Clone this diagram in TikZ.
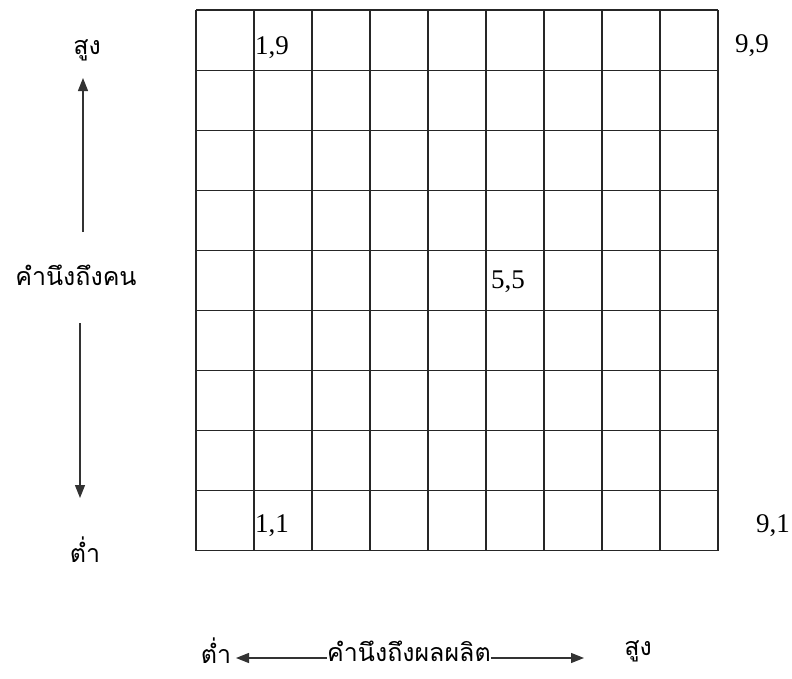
\documentclass[tikz,border=0pt]{standalone}
\usepackage{fontspec}
\setmainfont{Liberation Serif}
\newfontfamily\thaifont[Script=Thai]{Loma}
\usetikzlibrary{arrows.meta}

\begin{document}
\begin{tikzpicture}[x=1pt, y=-1pt, >={Triangle[length=13pt,width=10pt]},
    gridline/.style={black!85, line width=1.1pt},
    axisarrow/.style={->, line width=1.2pt, black!80},
    thaitext/.style={font=\thaifont\fontsize{25}{28}\selectfont, inner sep=0pt},
    cellnum/.style={font=\fontsize{27}{30}\selectfont, inner sep=0pt}]

    \useasboundingbox (0,0) rectangle (792,678);

    % --- Grid 9 x 9 ---
    \foreach \i in {0,...,9} {
        \draw[gridline] ({196+58*\i},10) -- ({196+58*\i},551);
        \draw[gridline] (196,{10+60.1*\i}) -- (718,{10+60.1*\i});
    }

    % --- Cell labels ---
    \node[cellnum, anchor=west] (c19) at (255,48) {1,9};
    \node[cellnum] (c99) at (752,46) {9,9};
    \node[cellnum] (c55) at (508,282) {5,5};
    \node[cellnum, anchor=west] (c11) at (255,526) {1,1};
    \node[cellnum, anchor=west] (c91) at (756,526) {9,1};

    % --- Vertical axis: concern for people ---
    \node[thaitext] (vhigh) at (87,50) {สูง};
    \node[thaitext] (people) at (76,275) {คำนึงถึงคน};
    \node[thaitext] (vlow) at (85,550) {ต่ำ};
    \coordinate (upbase) at (83,232);
    \coordinate (uptip) at (83,78);
    \coordinate (downbase) at (80,323);
    \coordinate (downtip) at (80,498);
    \draw[axisarrow] (upbase) -- (uptip);
    \draw[axisarrow] (downbase) -- (downtip);

    % --- Horizontal axis: concern for production ---
    \node[thaitext] (hlow) at (216,651) {ต่ำ};
    \node[thaitext] (production) at (409,651) {คำนึงถึงผลผลิต};
    \node[thaitext] (hhigh) at (638,651) {สูง};
    \coordinate (lefttip) at (236,658);
    \coordinate (righttip) at (584,658);
    \draw[axisarrow] (production.west |- lefttip) -- (lefttip);
    \draw[axisarrow] (production.east |- righttip) -- (righttip);

\end{tikzpicture}
\end{document}
